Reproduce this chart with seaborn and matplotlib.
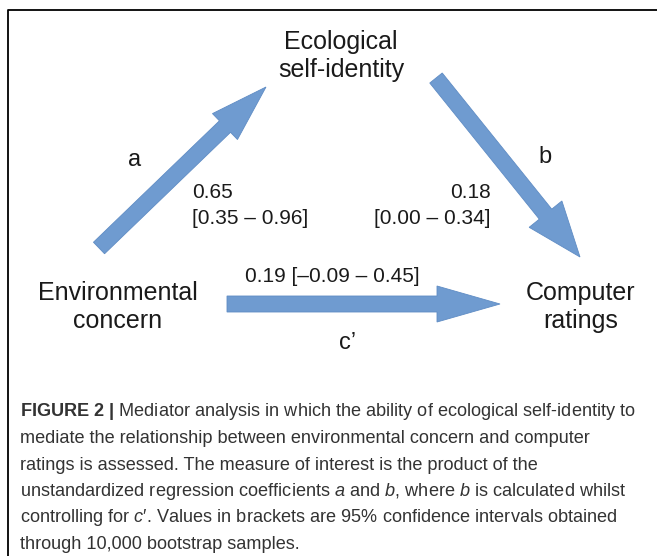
from matplotlib import pyplot as plt
import seaborn as sns


# Dados
caminhos = ['a', 'b', "c’"]
estimativas = [0.65, 0.18, 0.19]
ic_inferior = [0.35, 0.00, -0.09]
ic_superior = [0.96, 0.34, 0.45]
variaveis = ['Environmental\nconcern', 'Ecological\nself-identity', 'Computer\nratings']

legenda = [
    r'$\mathbf{FIGURE\ 2\ |}$ Mediator analysis in which the ability of ecological self-identity to',
    'mediate the relationship between environmental concern and computer',
    'ratings is assessed. The measure of interest is the product of the',
    r'unstandardized regression coefficients $\mathit{a}$ and $\mathit{b}$, where $\mathit{b}$ is calculated whilst',
    r'controlling for $\mathit{c}$′. Values in brackets are 95% confidence intervals obtained',
    'through 10,000 bootstrap samples.',
]


# Estilo
sns.set_theme(style='white')
plt.rcParams['font.family'] = ['Liberation Sans', 'DejaVu Sans']
plt.rcParams['mathtext.fontset'] = 'custom'
plt.rcParams['mathtext.rm'] = 'Liberation Sans'
plt.rcParams['mathtext.it'] = 'Liberation Sans:italic'
plt.rcParams['mathtext.bf'] = 'Liberation Sans:bold'

azul = '#6f9bd0'
texto = '#1a1a1a'

fig = plt.figure(figsize=(6.57, 5.56), dpi=100)
ax = fig.add_axes([0, 0, 1, 1])
ax.set_xlim(0, 657)
ax.set_ylim(556, 0)
ax.axis('off')

# moldura
ax.plot([8, 8, 660], [560, 10, 10], color='black', lw=1.3)

# posicoes dos nos (layout)
pos_nos = [(118, 307), (341, 56), (581, 307)]
for nome, (x, y) in zip(variaveis, pos_nos):
    ax.text(x, y, nome, ha='center', va='center', fontsize=18,
            color=texto, linespacing=1.25)

# setas (layout)
setas = [((99, 248), (266, 87), 36, 57),
         ((436, 78), (580, 257), 42, 55),
         ((227, 304), (500, 304), 36, 63)]
for (x0, y0), (x1, y1), hw, hl in setas:
    ax.arrow(x0, y0, x1 - x0, y1 - y0, width=16, head_width=hw, head_length=hl,
             length_includes_head=True, facecolor=azul, edgecolor='#5f8cc4', lw=0.6)

# letras dos caminhos
pos_letras = [(135, 160), (545, 157), (347, 343)]
for letra, (x, y) in zip(caminhos, pos_letras):
    ax.text(x, y, letra, ha='center', va='center', fontsize=17, color=texto)


def fmt(v):
    return f'{v:.2f}'.replace('-', '–')


# coeficientes
ax.text(192, 193, fmt(estimativas[0]), ha='left', va='center', fontsize=15, color=texto)
ax.text(192, 218, f'[{fmt(ic_inferior[0])} – {fmt(ic_superior[0])}]',
        ha='left', va='center', fontsize=15, color=texto)
ax.text(491, 193, fmt(estimativas[1]), ha='right', va='center', fontsize=15, color=texto)
ax.text(491, 218, f'[{fmt(ic_inferior[1])} – {fmt(ic_superior[1])}]',
        ha='right', va='center', fontsize=15, color=texto)
ax.text(332, 276, f'{fmt(estimativas[2])} [{fmt(ic_inferior[2])} – {fmt(ic_superior[2])}]',
        ha='center', va='center', fontsize=15, color=texto)

# legenda da figura
for i, linha in enumerate(legenda):
    ax.text(20, 412 + i * 26.5, linha, ha='left', va='center', fontsize=13.1,
            color='#333333')

plt.savefig('out.png', dpi=100)
